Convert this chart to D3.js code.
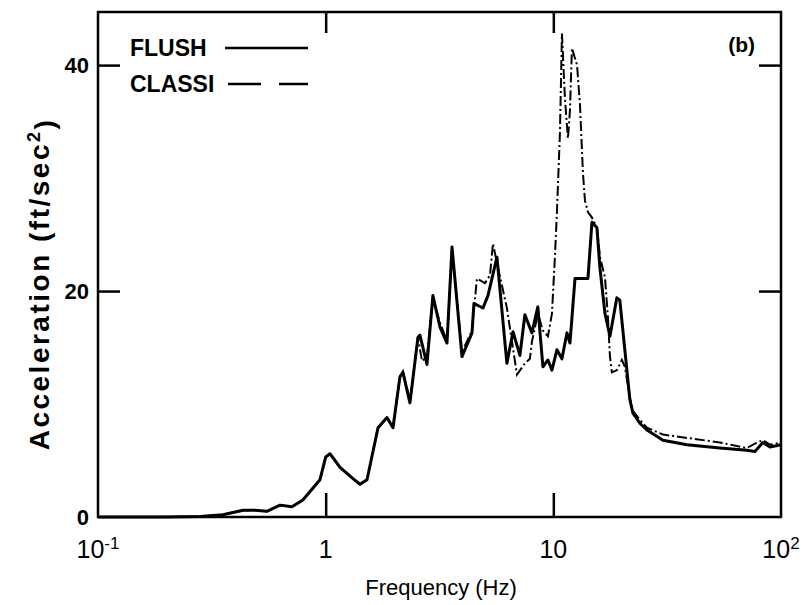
<!DOCTYPE html>
<html>
<head>
<meta charset="utf-8">
<script src="https://cdn.jsdelivr.net/npm/d3@7"></script>
<style>
  body { margin: 0; background: #fff; }
  svg text { font-family: "Liberation Sans", Arial, sans-serif; fill: #000; }
</style>
</head>
<body>
<div id="chart"></div>
<script>
// data
var freqFlush = [0.1, 0.2, 0.281, 0.354, 0.434, 0.49, 0.552, 0.63, 0.711, 0.794, 0.944, 1.0, 1.044, 1.1, 1.156, 1.318, 1.415, 1.519, 1.698, 1.859, 1.976,
  2.119, 2.185, 2.345, 2.543, 2.595, 2.786, 2.958, 3.177, 3.411, 3.589, 3.97, 4.393, 4.479, 4.909, 5.163, 5.653, 6.252, 6.651, 7.13, 7.5,
  8.05, 8.55, 9.0, 9.47, 9.86, 10.37, 10.91, 11.48, 11.83, 12.45, 13.49, 14.19, 14.78, 15.54, 16.03, 16.86, 17.73, 19.01, 19.59, 20.61,
  21.68, 22.37, 23.99, 25.77, 30.3, 38.6, 53.9, 70.8, 76.8, 83.3, 89.4, 100];
var accelFlush = [0, 0, 0.05, 0.2, 0.6, 0.6, 0.5, 1.05, 0.9, 1.5, 3.3, 5.3, 5.6, 5.0, 4.4, 3.4, 2.9, 3.3, 7.9, 8.8, 7.9,
  12.4, 12.8, 10.1, 15.9, 16.1, 13.5, 19.6, 16.8, 15.4, 23.9, 14.2, 16.3, 18.9, 18.5, 19.6, 23.0, 13.6, 16.4, 14.3, 17.9,
  16.3, 18.6, 13.3, 13.9, 13.0, 14.8, 14.0, 16.3, 15.4, 21.1, 21.1, 21.1, 26.1, 25.6, 22.0, 18.0, 16.0, 19.4, 19.2, 14.8,
  10.4, 9.2, 8.3, 7.7, 6.8, 6.4, 6.1, 5.9, 5.8, 6.6, 6.2, 6.4];

var freqClassi = [0.1, 0.2, 0.281, 0.354, 0.434, 0.49, 0.552, 0.63, 0.711, 0.794, 0.944, 1.0, 1.044, 1.1, 1.156, 1.318, 1.415, 1.519, 1.698, 1.859, 1.976,
  2.119, 2.185, 2.345, 2.543, 2.65, 2.786, 2.958, 3.177, 3.411, 3.589, 3.97, 4.393, 4.616, 5.01, 5.27, 5.429, 5.653, 6.252, 6.923, 7.5,
  7.89, 8.05, 8.55, 9.0, 9.47, 9.86, 10.16, 10.37, 10.69, 10.91, 11.25, 11.59, 11.83, 12.07, 12.71, 13.09, 13.49, 13.77, 14.19, 14.78,
  15.54, 16.03, 16.86, 17.37, 17.73, 18.07, 19.01, 20.0, 20.61, 21.68, 22.37, 23.99, 25.77, 30.3, 38.6, 53.9, 70.8, 76.8, 83.3, 89.4, 100];
var accelClassi = [0, 0, 0.05, 0.2, 0.6, 0.6, 0.5, 1.05, 0.9, 1.5, 3.3, 5.3, 5.6, 5.0, 4.4, 3.4, 2.9, 3.3, 7.9, 8.8, 7.9,
  12.4, 12.9, 10.3, 15.9, 13.8, 14.2, 19.4, 17.2, 15.6, 23.7, 14.6, 16.5, 21.1, 20.7, 21.4, 24.2, 22.5, 18.5, 12.6, 13.6,
  14.0, 15.5, 18.0, 16.5, 16.0, 18.0, 23.0, 27.0, 34.0, 42.8, 37.0, 33.5, 36.0, 41.5, 40.0, 36.5, 30.5, 28.0, 27.0, 26.5,
  25.6, 23.0, 21.2, 17.7, 14.2, 12.8, 13.0, 13.9, 13.3, 10.6, 9.4, 8.6, 7.9, 7.3, 7.0, 6.6, 6.1, 6.5, 6.8, 6.4, 6.6];

var xTicks = [0.1, 1, 10, 100];
var xTickLabels = [["10", "-1"], ["1", ""], ["10", ""], ["10", "2"]];
var yTicks = [0, 20, 40];

// Set the dimensions
var W = 804, H = 605;
var margin = {top: 12, right: 23, bottom: 88, left: 98},
    width = W - margin.left - margin.right,
    height = H - margin.top - margin.bottom;

var x = d3.scaleLog().domain([0.1, 100]).range([0, width]);
var y = d3.scaleLinear().domain([0, 44.7]).range([height, 0]);

var svg = d3.select("#chart").append("svg")
    .attr("width", W)
    .attr("height", H)
  .append("g")
    .attr("transform", "translate(" + margin.left + "," + margin.top + ")");

// inward ticks on all four sides
var innerX = [1, 10], innerY = [20, 40];
svg.append("g")
    .attr("transform", "translate(0," + height + ")")
    .call(d3.axisBottom(x).tickValues(innerX).tickSizeInner(-24).tickSizeOuter(0).tickFormat(""))
    .call(function(g){ g.select(".domain").remove(); });
svg.append("g")
    .call(d3.axisTop(x).tickValues(innerX).tickSizeInner(-21).tickSizeOuter(0).tickFormat(""))
    .call(function(g){ g.select(".domain").remove(); });
svg.append("g")
    .call(d3.axisLeft(y).tickValues(innerY).tickSizeInner(-22).tickSizeOuter(0).tickFormat(""))
    .call(function(g){ g.select(".domain").remove(); });
svg.append("g")
    .attr("transform", "translate(" + width + ",0)")
    .call(d3.axisRight(y).tickValues(innerY).tickSizeInner(-22).tickSizeOuter(0).tickFormat(""))
    .call(function(g){ g.select(".domain").remove(); });
svg.selectAll(".tick line").attr("stroke", "#000").attr("stroke-width", 2.5);

// frame
svg.append("rect")
    .attr("x", 0).attr("y", 0)
    .attr("width", width).attr("height", height)
    .attr("fill", "none")
    .attr("stroke", "#000")
    .attr("stroke-width", 2.5);

// y tick labels
svg.selectAll(".ylab")
    .data(yTicks)
  .enter().append("text")
    .attr("class", "ylab")
    .attr("x", -9)
    .attr("y", function(d) { return y(d); })
    .attr("dy", "0.36em")
    .style("text-anchor", "end")
    .style("font-size", "22px")
    .style("font-weight", "bold")
    .text(function(d) { return d; });

// x tick labels with superscripts
var xl = svg.selectAll(".xlab")
    .data(xTicks)
  .enter().append("text")
    .attr("class", "xlab")
    .attr("x", function(d) { return x(d); })
    .attr("y", height + 41)
    .style("text-anchor", "middle")
    .style("font-size", "25px");
xl.append("tspan").text(function(d, i) { return xTickLabels[i][0]; });
xl.append("tspan")
    .attr("dy", "-0.55em")
    .style("font-size", "17px")
    .text(function(d, i) { return xTickLabels[i][1]; });

// axis titles
svg.append("text")
    .attr("x", 343)
    .attr("y", height + 78)
    .style("text-anchor", "middle")
    .style("font-size", "22px")
    .text("Frequency (Hz)");

var yt = svg.append("text")
    .attr("transform", "translate(-49," + 272 + ") rotate(-90)")
    .style("text-anchor", "middle")
    .style("font-size", "28px")
    .style("font-weight", "bold")
    .style("letter-spacing", "2.5px");
yt.append("tspan").text("Acceleration (ft/sec");
yt.append("tspan").attr("dy", "-0.5em").style("font-size", "18px").text("2");
yt.append("tspan").attr("dy", "0.5em").text(")");

// curves
var line = d3.line()
    .x(function(d) { return x(d[0]); })
    .y(function(d) { return y(d[1]); });

var flush = d3.zip(freqFlush, accelFlush);
var classi = d3.zip(freqClassi, accelClassi);

svg.append("path")
    .datum(classi)
    .attr("fill", "none")
    .attr("stroke", "#000")
    .attr("stroke-width", 2)
    .attr("stroke-dasharray", "10,3,2,3")
    .attr("d", line);

svg.append("path")
    .datum(flush)
    .attr("fill", "none")
    .attr("stroke", "#000")
    .attr("stroke-width", 3)
    .attr("stroke-linejoin", "round")
    .attr("d", line);

// legend
var legend = svg.append("g").attr("transform", "translate(32,0)");
legend.append("text").attr("x", 0).attr("y", 44).style("font-size", "23px").style("font-weight", "bold").text("FLUSH");
legend.append("line").attr("x1", 95).attr("x2", 178).attr("y1", 36).attr("y2", 36)
    .attr("stroke", "#000").attr("stroke-width", 2.5);
legend.append("text").attr("x", 0).attr("y", 80).style("font-size", "23px").style("font-weight", "bold").text("CLASSI");
legend.append("line").attr("x1", 98).attr("x2", 178).attr("y1", 72).attr("y2", 72)
    .attr("stroke", "#000").attr("stroke-width", 2.5).attr("stroke-dasharray", "33,18");

svg.append("text")
    .attr("x", width - 26)
    .attr("y", 40)
    .style("text-anchor", "end")
    .style("font-size", "21px")
    .style("font-weight", "bold")
    .text("(b)");
</script>
</body>
</html>
